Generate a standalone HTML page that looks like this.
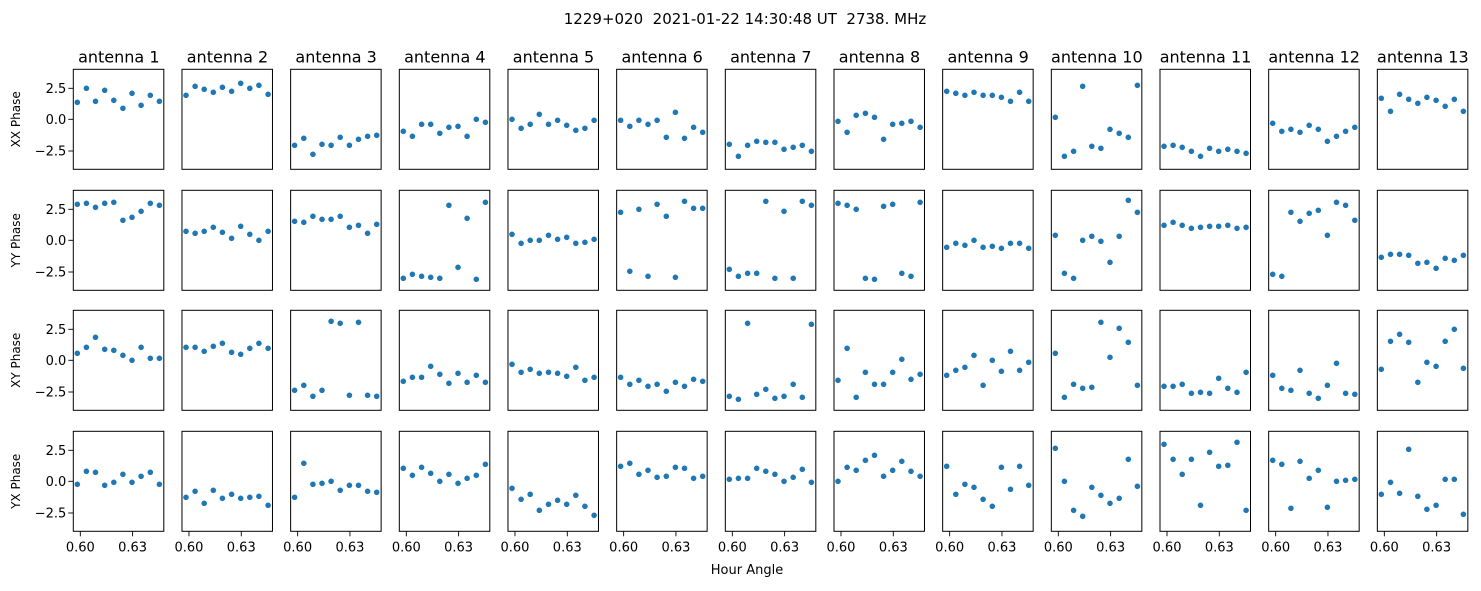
<!DOCTYPE html>
<html><head><meta charset="utf-8"><style>
html,body{margin:0;padding:0;background:#fff;}
svg text{font-family:"DejaVu Sans","Liberation Sans",sans-serif;fill:#000;}
.pre{white-space:pre;}
</style></head><body>
<svg id="s" width="1481" height="586" viewBox="0 0 1481 586" xmlns="http://www.w3.org/2000/svg">
<text class="pre" xml:space="preserve" x="745" y="24" font-size="15" text-anchor="middle">1229+020  2021-01-22 14:30:48 UT  2738. MHz</text>
<text x="747" y="574" font-size="13" text-anchor="middle">Hour Angle</text>
</svg>
<script>
var D=[
[[127,85,124,91,121,145,100,136,106,124],[106,79,88,97,82,94,70,85,76,103],[256,235,283,253,256,232,256,238,229,226],[214,229,193,193,220,202,199,229,178,187],[178,205,193,163,193,181,196,211,205,181],[181,199,181,193,181,232,157,235,202,217],[253,289,256,244,247,247,268,262,256,274],[184,217,166,160,172,238,193,190,184,202],[94,100,106,97,106,106,112,124,97,124],[172,289,274,79,259,265,208,220,232,76],[259,256,262,274,289,265,274,268,274,280],[190,214,208,217,196,208,244,229,214,202],[115,154,103,118,130,112,121,139,118,154]],
[[70,67,79,67,64,118,109,91,67,73],[151,157,151,139,154,172,136,160,178,151],[121,124,106,115,115,106,139,133,157,130],[292,280,286,289,292,73,259,112,295,64],[160,187,178,178,163,175,169,187,184,175],[94,271,85,286,70,106,289,61,82,82],[265,286,277,277,61,292,91,292,61,73],[67,73,85,292,295,76,70,277,286,64],[199,187,193,178,199,196,202,187,187,202],[163,277,292,178,166,181,244,166,58,94],[133,124,133,142,139,136,136,133,142,139],[280,286,94,121,97,88,163,64,73,118],[229,220,220,223,247,244,262,232,238,223]],
[[154,136,106,142,145,160,175,136,169,169],[136,136,148,133,124,151,157,139,124,139],[265,250,283,265,58,64,280,61,280,283],[238,226,226,193,217,244,214,241,220,241],[187,211,202,214,211,214,223,196,235,226],[226,247,235,253,247,268,241,253,232,238],[283,292,64,277,262,289,283,247,286,67],[235,139,286,211,247,247,211,172,232,217],[220,205,196,160,250,175,208,148,205,181],[154,286,247,259,256,61,166,79,121,250],[253,253,247,274,271,274,229,259,271,211],[220,259,265,205,274,289,250,184,274,277],[202,118,97,121,241,181,193,118,82,199]],
[[184,145,148,187,178,154,178,160,148,184],[223,205,241,202,226,214,226,223,220,247],[223,121,184,181,175,202,187,187,205,208],[136,157,133,151,175,154,181,166,157,124],[196,229,214,262,244,232,244,217,250,277],[130,121,154,142,163,160,133,136,166,160],[169,166,166,136,145,154,175,163,139,178],[175,133,142,112,97,160,142,115,145,160],[130,214,184,193,229,250,133,199,130,187],[76,175,262,280,193,217,241,226,109,190],[64,109,154,109,247,88,130,127,58,262],[112,124,256,115,166,142,253,175,172,169],[214,178,211,79,220,259,247,169,169,274]]];
var tops=[69.3,190.3,310.3,431.3],zt=[28,28,25,25],labs=["XX Phase","YY Phase","XY Phase","YX Phase"];
var h='';
for(var r=0;r<4;r++){
 var T=tops[r];
 h+='<text transform="translate(20,'+(T+50)+') rotate(-90)" font-size="12" text-anchor="middle">'+labs[r]+'</text>';
 for(var c=0;c<13;c++){
  var L=73.3+c*108.67;
  if(r==0) h+='<text x="'+(L+45.5)+'" y="'+(T-7)+'" font-size="16" text-anchor="middle">antenna '+(c+1)+'</text>';
  var d=D[r][c];
  for(var i=0;i<10;i++){
   var x=L+4+i*9.12,y=T+(d[i]-zt[r])/3;
   h+='<circle cx="'+x.toFixed(1)+'" cy="'+y.toFixed(1)+'" r="2.8" fill="#1f77b4"/>';
  }
  h+='<rect x="'+L+'" y="'+T+'" width="90.5" height="100" fill="none" stroke="#000" stroke-width="1"/>';
  if(c==0){
   var yt=[[19,"2.5"],[50,"0.0"],[81.7,"\u22122.5"]];
   for(var k=0;k<3;k++){
    h+='<line x1="'+(L-5)+'" x2="'+L+'" y1="'+(T+yt[k][0])+'" y2="'+(T+yt[k][0])+'" stroke="#000" stroke-width="0.9"/>';
    h+='<text x="'+(L-7)+'" y="'+(T+yt[k][0]+4.5)+'" font-size="13" text-anchor="end">'+yt[k][1]+'</text>';
   }
  }
  if(r==3){
   var xt=[[7,"0.60"],[59.3,"0.63"]];
   for(var k=0;k<2;k++){
    h+='<line x1="'+(L+xt[k][0])+'" x2="'+(L+xt[k][0])+'" y1="'+(T+100)+'" y2="'+(T+105)+'" stroke="#000" stroke-width="0.9"/>';
    h+='<text x="'+(L+xt[k][0])+'" y="'+(T+120)+'" font-size="13" text-anchor="middle">'+xt[k][1]+'</text>';
   }
  }
 }
}
document.getElementById('s').insertAdjacentHTML('beforeend',h);
</script>
</body></html>
